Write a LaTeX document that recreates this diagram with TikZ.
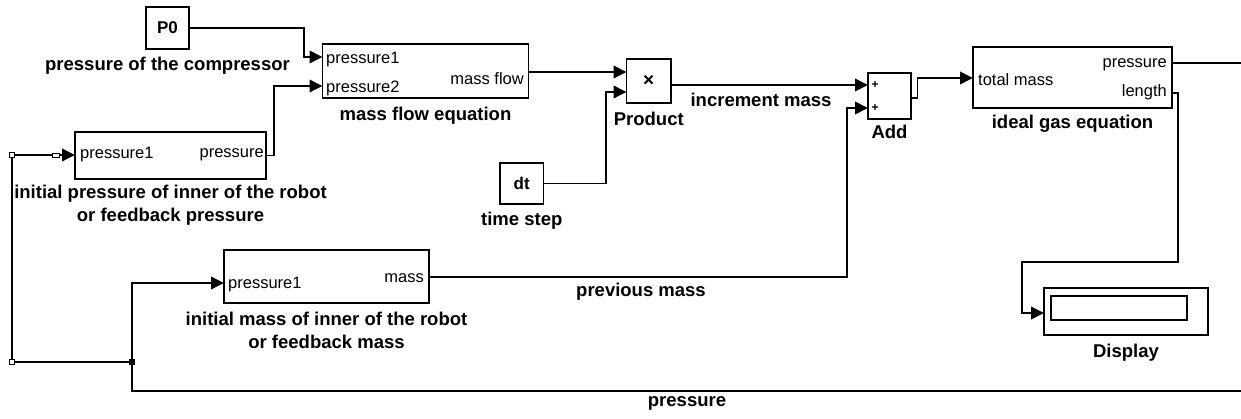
\documentclass[tikz,border=0pt]{standalone}
\usepackage{fontspec}
\setmainfont{Liberation Sans}
\usetikzlibrary{positioning,arrows.meta}

\begin{document}
\begin{tikzpicture}[x=1pt, y=-1pt,
    block/.style={draw, line width=1.8pt, fill=white, inner sep=0pt},
    lbl/.style={font=\fontsize{18.5}{23}\selectfont\bfseries, inner sep=0pt, align=center},
    port/.style={font=\fontsize{16.5}{18}\selectfont, inner sep=0pt},
    wire/.style={line width=1.9pt},
    sig/.style={wire, -{Triangle[length=13pt,width=12.5pt]}},
    knot/.style={draw, fill=white, line width=0.9pt, minimum size=4.5pt, inner sep=0pt},
    joint/.style={fill, minimum size=5.5pt, inner sep=0pt}]
  \useasboundingbox (0,0) rectangle (1241,419);

  % blocks
  \node[block, minimum width=43pt, minimum height=42pt, font=\fontsize{17}{20}\selectfont\bfseries] (P0) at (167.5,28) {P0};
  \node[block, minimum width=206pt, minimum height=54pt] (massflow) at (425.5,71) {};
  \node[block, minimum width=191pt, minimum height=47pt] (initp) at (170.5,155.5) {};
  \node[block, minimum width=43.5pt, minimum height=41pt, font=\fontsize{17}{20}\selectfont\bfseries] (dt) at (521.75,183.5) {dt};
  \node[block, minimum width=44.5pt, minimum height=44pt, font=\fontsize{19}{20}\selectfont\bfseries] (product) at (648.75,81) {×};
  \node[block, minimum width=43pt, minimum height=46pt] (add) at (889.5,96) {};
  \node[block, minimum width=199pt, minimum height=61pt] (idealgas) at (1072.5,77.5) {};
  \node[block, minimum width=205pt, minimum height=53pt] (initm) at (326.5,276.5) {};
  \node[block, minimum width=164pt, minimum height=47pt] (display) at (1126,311.5) {};
  \node[block, minimum width=136pt, minimum height=24pt] (screen) at (1119,308) {};

  % block labels
  \node[lbl, below=7pt of P0] (P0-lbl) {pressure of the compressor};
  \node[lbl, below=8pt of massflow] (massflow-lbl) {mass flow equation};
  \node[lbl, below=5pt of initp] (initp-lbl) {initial pressure of inner of the robot\\or feedback pressure};
  \node[lbl, below=7pt of dt] (dt-lbl) {time step};
  \node[lbl, below=8pt of product] (product-lbl) {Product};
  \node[lbl, below=5pt of add] (add-lbl) {Add};
  \node[lbl, below=6pt of idealgas] (idealgas-lbl) {ideal gas equation};
  \node[lbl, below=8pt of initm] (initm-lbl) {initial mass of inner of the robot\\or feedback mass};
  \node[lbl, below=8pt of display] (display-lbl) {Display};

  % port labels
  \node[port, anchor=west] (mf-p1) at (326,60) {pressure1};
  \node[port, anchor=west] (mf-p2) at (326,88) {pressure2};
  \node[port, anchor=east] (mf-o) at (524,79) {mass flow};
  \node[port, anchor=west] (ip-p1) at (80,155) {pressure1};
  \node[port, anchor=east] (ip-o) at (264,155) {pressure};
  \node[port, anchor=west] (ig-p) at (978,80) {total mass};
  \node[port, anchor=east] (ig-o1) at (1167,65) {pressure};
  \node[port, anchor=east] (ig-o2) at (1167,92) {length};
  \node[port, anchor=west] (im-p) at (228,285) {pressure1};
  \node[port, anchor=east] (im-o) at (424,278) {mass};
  \node[font=\fontsize{12}{12}\selectfont\bfseries, inner sep=0pt] (plus1) at (875,85) {+};
  \node[font=\fontsize{12}{12}\selectfont\bfseries, inner sep=0pt] (plus2) at (875,108) {+};

  % signal labels
  \node[lbl] (incr-lbl) at (761,100) {increment mass};
  \node[lbl] (prev-lbl) at (641,292) {previous mass};
  \node[lbl] (fbp-lbl) at (687,403) {pressure};

  % ports
  \coordinate (mf-in1) at (322.5,57);
  \coordinate (mf-in2) at (322.5,86);
  \coordinate (mf-out) at (528.5,72);
  \coordinate (pr-in1) at (626.5,72);
  \coordinate (pr-in2) at (626.5,92);
  \coordinate (pr-out) at (671,85);
  \coordinate (add-in1) at (868,85);
  \coordinate (add-in2) at (868,108);
  \coordinate (add-out) at (911,98);
  \coordinate (ig-in) at (973,78);
  \coordinate (ig-out1) at (1172,63);
  \coordinate (ig-out2) at (1172,93);
  \coordinate (disp-in) at (1044,313);
  \coordinate (ip-in) at (75,155);
  \coordinate (im-in) at (224,283);
  \coordinate (im-out) at (429,277);
  \coordinate (edge-top) at (1241,63);
  \coordinate (edge-bot) at (1241,391);
  \coordinate (fb) at (132,362);
  \coordinate (fb-corner) at (12,362);
  \coordinate (fb-top) at (12,155);

  % signals
  \draw[sig] (P0.east) -- ++(114,0) |- (mf-in1);
  \draw[sig] (initp.east) -- ++(7,0) |- (mf-in2);
  \draw[sig] (mf-out) -- (pr-in1);
  \draw[sig] (dt.east) -- ++(61.5,0) |- (pr-in2);
  \draw[sig] (pr-out) -- (add-in1);
  \draw[sig] (im-out) -- ++(418,0) |- (add-in2);
  \draw[sig] (add-out) -- ++(6.5,0) |- (ig-in);
  \draw[wire] (ig-out1) -- (edge-top);
  \draw[sig] (ig-out2) -- ++(6,0) |- (1022,262) |- (disp-in);

  % feedback
  \draw[wire] (edge-bot) -| (fb);
  \draw[sig] (fb) |- (im-in);
  \draw[wire] (fb) -- (fb-corner) -- (fb-top);
  \draw[sig] (fb-top) -- (ip-in);
  \draw[line width=0.9pt, fill=white] (52,153) rectangle (59,157.5);
  \node[knot] (k1) at (fb-top) {};
  \node[knot] (k2) at (fb-corner) {};
  \node[joint] (j1) at (fb) {};
\end{tikzpicture}
\end{document}
